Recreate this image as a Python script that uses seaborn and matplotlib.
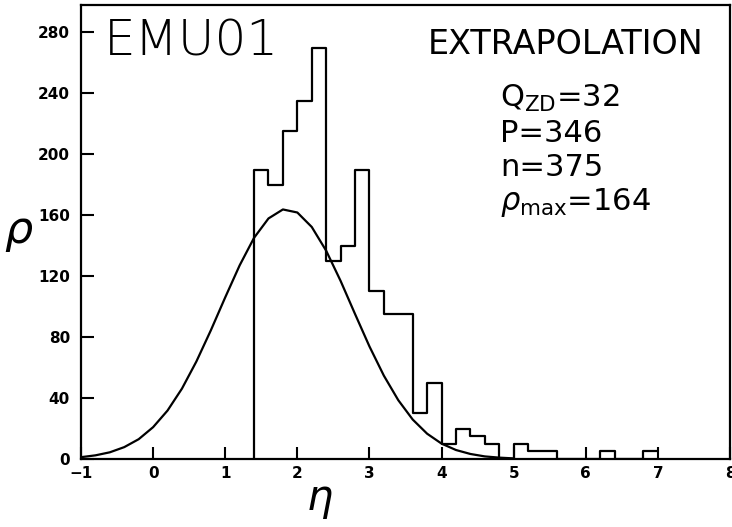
import matplotlib
matplotlib.use("Agg")
import matplotlib.pyplot as plt
import numpy as np
import pandas as pd
import seaborn as sns

# histogram: bins of 0.2 in eta, starting at 1.4
bin_left = [1.4, 1.6, 1.8, 2.0, 2.2, 2.4, 2.6, 2.8, 3.0, 3.2, 3.4, 3.6, 3.8, 4.0,
            4.2, 4.4, 4.6, 4.8, 5.0, 5.2, 5.4, 5.6, 5.8, 6.0, 6.2, 6.4, 6.6, 6.8]
rho_hist = [190, 180, 215, 235, 270, 130, 140, 190, 110, 95, 95, 30, 50, 10,
            20, 15, 10, 0, 10, 5, 5, 0, 0, 0, 5, 0, 0, 5]
bin_edges = [1.4 + 0.2 * i for i in range(len(bin_left) + 1)]

# extrapolation curve, values
eta_curve = [-1.0, -0.8, -0.6, -0.4, -0.2, 0.0, 0.2, 0.4, 0.6, 0.8, 1.0, 1.2, 1.4,
             1.6, 1.8, 2.0, 2.2, 2.4, 2.6, 2.8, 3.0, 3.2, 3.4, 3.6, 3.8, 4.0,
             4.2, 4.4, 4.6, 4.8, 5.0]
rho_curve = [1.2, 2.4, 4.4, 7.8, 13.0, 20.9, 31.8, 46.2, 64.0, 84.4, 106.1, 127.1, 145.2,
             157.9, 163.8, 161.8, 152.3, 136.7, 116.9, 95.2, 73.9, 54.7, 38.6, 25.9, 16.6, 10.1,
             5.9, 3.3, 1.7, 0.9, 0.4]

x_ticks = [-1, 0, 1, 2, 3, 4, 5, 6, 7, 8]
x_labels = ["\u22121", "0", "1", "2", "3", "4", "5", "6", "7", "8"]
y_ticks = [0, 40, 80, 120, 160, 200, 240, 280]

info_lines = ["$\\mathregular{Q_{ZD}}$=32", "P=346", "n=375", "$\\rho_{\\mathregular{max}}$=164"]

sns.set_style("ticks")
plt.rcParams['font.family'] = ['DejaVu Sans']
plt.rcParams['text.color'] = 'black'
plt.rcParams['axes.edgecolor'] = 'black'
plt.rcParams['xtick.color'] = 'black'
plt.rcParams['ytick.color'] = 'black'

fig = plt.figure(figsize=(7.32, 5.27), dpi=100)
ax = fig.add_axes([81 / 732, 1 - 459 / 527, 649 / 732, 454 / 527])

df_hist = pd.DataFrame({"eta": [b + 0.1 for b in bin_left], "rho": rho_hist})
sns.histplot(data=df_hist, x="eta", weights="rho", bins=bin_edges, element="step",
             fill=False, color="black", linewidth=1.6, ax=ax)
ax.vlines(bin_edges[0], 0, rho_hist[0], color="black", linewidth=1.6)

df_curve = pd.DataFrame({"eta": eta_curve, "rho": rho_curve})
sns.lineplot(data=df_curve, x="eta", y="rho", color="black", linewidth=1.6, ax=ax)

ax.set_xlim(-1, 8)
ax.set_ylim(0, 298)
ax.set_xticks(x_ticks)
ax.set_xticklabels(x_labels)
ax.set_yticks(y_ticks)
ax.tick_params(direction="in", length=9, width=1.5, labelsize=11)
ax.tick_params(axis="x", pad=5)
ax.tick_params(axis="y", pad=8)
for lab in ax.get_xticklabels() + ax.get_yticklabels():
    lab.set_fontweight("bold")
for s in ax.spines.values():
    s.set_linewidth(1.6)
    s.set_visible(True)

ax.set_xlabel("")
ax.set_ylabel("")
ax.text(0.368, -0.09, "$\\eta$", transform=ax.transAxes, fontsize=30,
        ha="center", va="center")
ax.text(-0.095, 0.5, "$\\rho$", transform=ax.transAxes, fontsize=32,
        ha="center", va="center")

ax.text(0.035, 0.92, "EMU01", transform=ax.transAxes, fontsize=36,
        fontweight="light", va="center", ha="left")
ax.text(0.746, 0.912, "EXTRAPOLATION", transform=ax.transAxes, fontsize=24,
        va="center", ha="center")
for i, line in enumerate(info_lines):
    ax.text(0.646, 0.795 - i * 0.077, line, transform=ax.transAxes, fontsize=22,
            va="center", ha="left")

fig.savefig("out.png", dpi=100)
